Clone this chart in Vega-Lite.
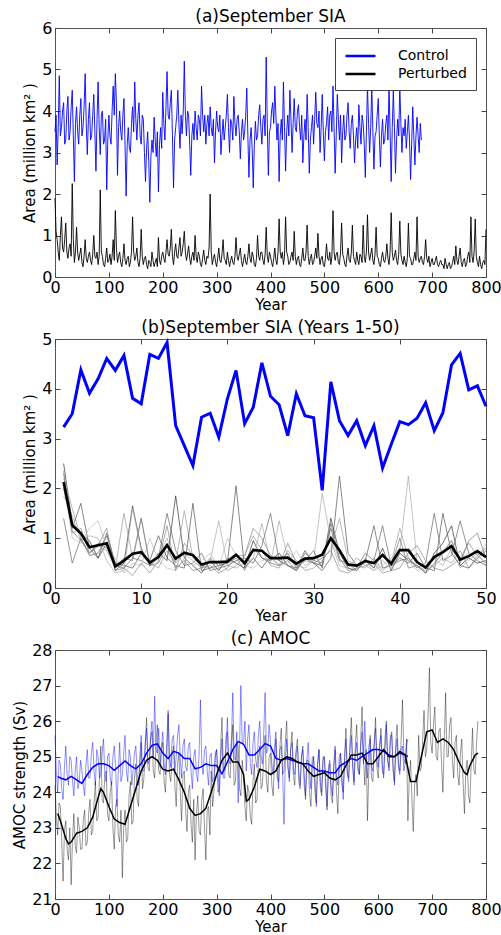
{
"$schema":"https://vega.github.io/schema/vega-lite/v6.json",
"padding":{"left":12,"top":7,"right":10,"bottom":1},
"spacing":5,
"config":{
"font":"DejaVu Sans",
"axis":{"labelFont":"DejaVu Sans","labelFontSize":16,"labelColor":"#000","titleFont":"DejaVu Sans","titleFontSize":15,"titleFontWeight":"normal","titleColor":"#000","domain":false,"grid":false,"ticks":true,"tickSize":-5,"tickColor":"#444","labelPadding":8,"labelFlush":false,"labelOverlap":false},
"axisX":{"titlePadding":2,"labelPadding":7},
"axisY":{"titlePadding":4},
"view":{"stroke":"#555","strokeWidth":1},
"title":{"font":"DejaVu Sans","fontSize":17,"fontWeight":"normal","offset":-6,"color":"#000"},
"legend":{"labelFont":"DejaVu Sans"}
},
"resolve":{"scale":{"color":"independent"},"legend":{"color":"independent"}},
"datasets":{
"ac":[{"year":0,"v":3.5},{"year":2,"v":3.9},{"year":4,"v":2.7},{"year":6,"v":3.6},{"year":8,"v":4.85},{"year":10,"v":3.4},{"year":12,"v":3.6},{"year":14,"v":4.0},{"year":16,"v":4.2},{"year":18,"v":3.2},{"year":20,"v":3.3},{"year":22,"v":4.0},{"year":24,"v":4.35},{"year":26,"v":3.3},{"year":28,"v":3.5},{"year":30,"v":4.1},{"year":32,"v":4.5},{"year":34,"v":3.4},{"year":36,"v":2.3},{"year":38,"v":3.7},
{"year":40,"v":4.1},{"year":42,"v":3.5},{"year":44,"v":3.2},{"year":46,"v":3.9},{"year":48,"v":4.3},{"year":50,"v":3.4},{"year":52,"v":3.6},{"year":54,"v":4.1},{"year":56,"v":4.9},{"year":58,"v":3.7},{"year":60,"v":2.95},{"year":62,"v":3.8},{"year":64,"v":4.2},{"year":66,"v":3.3},{"year":68,"v":3.4},{"year":70,"v":3.9},{"year":72,"v":4.4},{"year":74,"v":3.5},{"year":76,"v":2.55},{"year":78,"v":3.8},
{"year":80,"v":4.7},{"year":82,"v":3.6},{"year":84,"v":2.95},{"year":86,"v":3.9},{"year":88,"v":4.0},{"year":90,"v":3.2},{"year":92,"v":3.3},{"year":94,"v":3.8},{"year":96,"v":2.1},{"year":98,"v":3.3},{"year":100,"v":3.9},{"year":102,"v":3.4},{"year":104,"v":3.2},{"year":106,"v":4.0},{"year":108,"v":4.6},{"year":110,"v":3.9},{"year":112,"v":4.9},{"year":114,"v":4.2},{"year":116,"v":2.45},{"year":118,"v":3.6},
{"year":120,"v":4.0},{"year":122,"v":3.5},{"year":124,"v":3.3},{"year":126,"v":3.9},{"year":128,"v":4.3},{"year":130,"v":3.2},{"year":132,"v":1.95},{"year":134,"v":3.2},{"year":136,"v":3.6},{"year":138,"v":3.1},{"year":140,"v":3.0},{"year":142,"v":3.7},{"year":144,"v":4.1},{"year":146,"v":3.5},{"year":148,"v":4.7},{"year":150,"v":3.8},{"year":152,"v":3.3},{"year":154,"v":3.9},{"year":156,"v":4.2},{"year":158,"v":3.4},
{"year":160,"v":3.2},{"year":162,"v":3.9},{"year":164,"v":3.8},{"year":166,"v":3.0},{"year":168,"v":2.3},{"year":170,"v":3.1},{"year":172,"v":3.5},{"year":174,"v":2.8},{"year":176,"v":1.8},{"year":178,"v":2.9},{"year":180,"v":3.3},{"year":182,"v":3.0},{"year":184,"v":3.85},{"year":186,"v":3.3},{"year":188,"v":2.9},{"year":190,"v":3.5},{"year":192,"v":2.05},{"year":194,"v":3.2},{"year":196,"v":3.6},{"year":198,"v":3.1},
{"year":200,"v":4.45},{"year":202,"v":3.7},{"year":204,"v":3.3},{"year":206,"v":4.1},{"year":208,"v":4.95},{"year":210,"v":3.9},{"year":212,"v":3.8},{"year":214,"v":4.2},{"year":216,"v":4.5},{"year":218,"v":3.4},{"year":220,"v":2.15},{"year":222,"v":3.3},{"year":224,"v":3.6},{"year":226,"v":3.9},{"year":228,"v":4.5},{"year":230,"v":3.7},{"year":232,"v":3.1},{"year":234,"v":3.9},{"year":236,"v":3.45},{"year":238,"v":4.0},
{"year":240,"v":5.2},{"year":242,"v":3.9},{"year":244,"v":3.4},{"year":246,"v":4.0},{"year":248,"v":3.9},{"year":250,"v":3.2},{"year":252,"v":2.45},{"year":254,"v":3.4},{"year":256,"v":3.7},{"year":258,"v":3.3},{"year":260,"v":4.0},{"year":262,"v":3.6},{"year":264,"v":3.3},{"year":266,"v":3.9},{"year":268,"v":3.8},{"year":270,"v":3.4},{"year":272,"v":4.6},{"year":274,"v":3.9},{"year":276,"v":3.5},{"year":278,"v":3.9},
{"year":280,"v":3.2},{"year":282,"v":3.7},{"year":284,"v":3.9},{"year":286,"v":3.4},{"year":288,"v":4.1},{"year":290,"v":3.6},{"year":292,"v":3.4},{"year":294,"v":3.8},{"year":296,"v":2.75},{"year":298,"v":3.5},{"year":300,"v":4.0},{"year":302,"v":3.6},{"year":304,"v":3.5},{"year":306,"v":3.9},{"year":308,"v":2.95},{"year":310,"v":3.4},{"year":312,"v":3.8},{"year":314,"v":3.3},{"year":316,"v":3.6},{"year":318,"v":3.9},
{"year":320,"v":4.4},{"year":322,"v":3.6},{"year":324,"v":3.0},{"year":326,"v":3.8},{"year":328,"v":3.7},{"year":330,"v":3.3},{"year":332,"v":4.35},{"year":334,"v":3.7},{"year":336,"v":3.4},{"year":338,"v":3.8},{"year":340,"v":3.9},{"year":342,"v":3.5},{"year":344,"v":2.85},{"year":346,"v":3.5},{"year":348,"v":3.8},{"year":350,"v":3.3},{"year":352,"v":3.5},{"year":354,"v":3.9},{"year":356,"v":4.55},{"year":358,"v":3.4},
{"year":360,"v":2.4},{"year":362,"v":3.3},{"year":364,"v":3.6},{"year":366,"v":3.1},{"year":368,"v":2.15},{"year":370,"v":3.2},{"year":372,"v":3.75},{"year":374,"v":3.3},{"year":376,"v":3.4},{"year":378,"v":3.9},{"year":380,"v":4.15},{"year":382,"v":3.6},{"year":384,"v":3.2},{"year":386,"v":3.8},{"year":388,"v":3.9},{"year":390,"v":3.4},{"year":392,"v":5.3},{"year":394,"v":3.7},{"year":396,"v":2.45},{"year":398,"v":3.5},
{"year":400,"v":3.6},{"year":402,"v":4.0},{"year":404,"v":4.2},{"year":406,"v":3.7},{"year":408,"v":4.6},{"year":410,"v":3.9},{"year":412,"v":3.3},{"year":414,"v":3.7},{"year":416,"v":2.3},{"year":418,"v":3.4},{"year":420,"v":3.8},{"year":422,"v":3.3},{"year":424,"v":4.7},{"year":426,"v":3.6},{"year":428,"v":2.55},{"year":430,"v":3.5},{"year":432,"v":3.9},{"year":434,"v":3.4},{"year":436,"v":4.5},{"year":438,"v":3.8},
{"year":440,"v":3.0},{"year":442,"v":3.7},{"year":444,"v":4.3},{"year":446,"v":3.6},{"year":448,"v":3.5},{"year":450,"v":4.0},{"year":452,"v":4.15},{"year":454,"v":3.6},{"year":456,"v":3.3},{"year":458,"v":3.9},{"year":460,"v":2.75},{"year":462,"v":3.4},{"year":464,"v":3.8},{"year":466,"v":3.3},{"year":468,"v":4.4},{"year":470,"v":3.6},{"year":472,"v":2.5},{"year":474,"v":3.3},{"year":476,"v":3.6},{"year":478,"v":3.9},
{"year":480,"v":3.2},{"year":482,"v":3.8},{"year":484,"v":4.45},{"year":486,"v":3.7},{"year":488,"v":3.6},{"year":490,"v":4.0},{"year":492,"v":3.0},{"year":494,"v":3.6},{"year":496,"v":4.4},{"year":498,"v":3.5},{"year":500,"v":2.8},{"year":502,"v":3.5},{"year":504,"v":3.7},{"year":506,"v":4.1},{"year":508,"v":3.3},{"year":510,"v":3.9},{"year":512,"v":4.0},{"year":514,"v":3.5},{"year":516,"v":4.6},{"year":518,"v":3.6},
{"year":520,"v":2.5},{"year":522,"v":3.4},{"year":524,"v":4.4},{"year":526,"v":3.8},{"year":528,"v":3.3},{"year":530,"v":3.9},{"year":532,"v":2.75},{"year":534,"v":3.5},{"year":536,"v":3.9},{"year":538,"v":3.3},{"year":540,"v":3.4},{"year":542,"v":3.9},{"year":544,"v":4.2},{"year":546,"v":3.5},{"year":548,"v":3.1},{"year":550,"v":3.7},{"year":552,"v":3.9},{"year":554,"v":3.4},{"year":556,"v":2.75},{"year":558,"v":3.3},
{"year":560,"v":3.6},{"year":562,"v":3.1},{"year":564,"v":4.15},{"year":566,"v":3.6},{"year":568,"v":3.2},{"year":570,"v":3.9},{"year":572,"v":3.7},{"year":574,"v":3.2},{"year":576,"v":2.4},{"year":578,"v":3.5},{"year":580,"v":4.6},{"year":582,"v":3.7},{"year":584,"v":3.0},{"year":586,"v":3.6},{"year":588,"v":4.6},{"year":590,"v":3.5},{"year":592,"v":2.6},{"year":594,"v":3.4},{"year":596,"v":3.5},{"year":598,"v":3.9},
{"year":600,"v":4.3},{"year":602,"v":3.4},{"year":604,"v":2.65},{"year":606,"v":3.4},{"year":608,"v":3.8},{"year":610,"v":3.2},{"year":612,"v":3.3},{"year":614,"v":3.7},{"year":616,"v":3.9},{"year":618,"v":3.3},{"year":620,"v":4.6},{"year":622,"v":3.5},{"year":624,"v":2.3},{"year":626,"v":3.6},{"year":628,"v":4.5},{"year":630,"v":3.6},{"year":632,"v":2.5},{"year":634,"v":3.3},{"year":636,"v":3.8},{"year":638,"v":3.4},
{"year":640,"v":4.6},{"year":642,"v":3.7},{"year":644,"v":3.0},{"year":646,"v":3.6},{"year":648,"v":3.4},{"year":650,"v":3.8},{"year":652,"v":3.1},{"year":654,"v":3.5},{"year":656,"v":3.9},{"year":658,"v":3.3},{"year":660,"v":2.35},{"year":662,"v":3.2},{"year":664,"v":4.1},{"year":666,"v":3.4},{"year":668,"v":2.7},{"year":670,"v":3.4},{"year":672,"v":3.85},{"year":674,"v":3.4},{"year":676,"v":3.0},{"year":678,"v":3.7},
{"year":680,"v":3.3}],
"ap":[{"year":0,"v":1.9},{"year":2,"v":1.1},{"year":4,"v":0.9},{"year":6,"v":0.6},{"year":8,"v":0.4},{"year":10,"v":1.0},{"year":12,"v":1.45},{"year":14,"v":0.7},{"year":16,"v":0.6},{"year":18,"v":0.9},{"year":20,"v":1.3},{"year":22,"v":0.6},{"year":24,"v":0.45},{"year":26,"v":0.7},{"year":28,"v":0.8},{"year":30,"v":0.5},{"year":32,"v":2.25},{"year":34,"v":0.9},{"year":36,"v":0.35},{"year":38,"v":0.6},
{"year":40,"v":1.2},{"year":42,"v":0.6},{"year":44,"v":0.4},{"year":46,"v":0.55},{"year":48,"v":0.7},{"year":50,"v":0.35},{"year":52,"v":0.25},{"year":54,"v":0.5},{"year":56,"v":0.9},{"year":58,"v":0.45},{"year":60,"v":0.35},{"year":62,"v":0.5},{"year":64,"v":0.6},{"year":66,"v":0.4},{"year":68,"v":0.3},{"year":70,"v":0.55},{"year":72,"v":1.0},{"year":74,"v":0.5},{"year":76,"v":0.45},{"year":78,"v":0.6},
{"year":80,"v":0.3},{"year":82,"v":0.5},{"year":84,"v":2.1},{"year":86,"v":0.6},{"year":88,"v":0.5},{"year":90,"v":0.3},{"year":92,"v":0.25},{"year":94,"v":0.45},{"year":96,"v":0.7},{"year":98,"v":0.35},{"year":100,"v":0.4},{"year":102,"v":0.55},{"year":104,"v":0.3},{"year":106,"v":0.5},{"year":108,"v":0.9},{"year":110,"v":0.4},{"year":112,"v":1.6},{"year":114,"v":0.7},{"year":116,"v":0.35},{"year":118,"v":0.5},
{"year":120,"v":0.6},{"year":122,"v":0.35},{"year":124,"v":0.25},{"year":126,"v":0.45},{"year":128,"v":0.8},{"year":130,"v":0.4},{"year":132,"v":0.3},{"year":134,"v":0.45},{"year":136,"v":0.5},{"year":138,"v":0.25},{"year":140,"v":0.35},{"year":142,"v":0.6},{"year":144,"v":1.45},{"year":146,"v":0.6},{"year":148,"v":0.4},{"year":150,"v":0.5},{"year":152,"v":0.7},{"year":154,"v":0.35},{"year":156,"v":0.25},{"year":158,"v":0.45},
{"year":160,"v":1.15},{"year":162,"v":0.5},{"year":164,"v":0.3},{"year":166,"v":0.45},{"year":168,"v":0.5},{"year":170,"v":0.3},{"year":172,"v":0.2},{"year":174,"v":0.4},{"year":176,"v":0.35},{"year":178,"v":0.25},{"year":180,"v":0.6},{"year":182,"v":0.4},{"year":184,"v":0.25},{"year":186,"v":0.35},{"year":188,"v":0.45},{"year":190,"v":0.25},{"year":192,"v":0.95},{"year":194,"v":0.4},{"year":196,"v":0.3},{"year":198,"v":0.5},
{"year":200,"v":0.6},{"year":202,"v":0.45},{"year":204,"v":0.35},{"year":206,"v":0.6},{"year":208,"v":0.9},{"year":210,"v":0.55},{"year":212,"v":0.5},{"year":214,"v":0.7},{"year":216,"v":1.15},{"year":218,"v":0.5},{"year":220,"v":0.3},{"year":222,"v":0.6},{"year":224,"v":0.8},{"year":226,"v":0.5},{"year":228,"v":0.45},{"year":230,"v":0.7},{"year":232,"v":0.95},{"year":234,"v":0.5},{"year":236,"v":0.6},{"year":238,"v":0.8},
{"year":240,"v":1.1},{"year":242,"v":0.6},{"year":244,"v":0.4},{"year":246,"v":0.55},{"year":248,"v":0.75},{"year":250,"v":0.45},{"year":252,"v":0.3},{"year":254,"v":0.5},{"year":256,"v":0.6},{"year":258,"v":0.4},{"year":260,"v":1.0},{"year":262,"v":0.5},{"year":264,"v":0.35},{"year":266,"v":0.6},{"year":268,"v":0.5},{"year":270,"v":0.3},{"year":272,"v":0.25},{"year":274,"v":0.45},{"year":276,"v":0.65},{"year":278,"v":0.4},
{"year":280,"v":0.3},{"year":282,"v":0.5},{"year":284,"v":0.45},{"year":286,"v":0.7},{"year":288,"v":2.0},{"year":290,"v":0.6},{"year":292,"v":0.3},{"year":294,"v":0.45},{"year":296,"v":0.55},{"year":298,"v":0.35},{"year":300,"v":0.25},{"year":302,"v":0.45},{"year":304,"v":0.7},{"year":306,"v":0.4},{"year":308,"v":0.35},{"year":310,"v":0.55},{"year":312,"v":0.9},{"year":314,"v":0.45},{"year":316,"v":0.4},{"year":318,"v":0.3},
{"year":320,"v":0.6},{"year":322,"v":0.4},{"year":324,"v":0.25},{"year":326,"v":0.4},{"year":328,"v":0.5},{"year":330,"v":0.35},{"year":332,"v":0.3},{"year":334,"v":0.5},{"year":336,"v":0.95},{"year":338,"v":0.5},{"year":340,"v":0.4},{"year":342,"v":0.55},{"year":344,"v":0.7},{"year":346,"v":0.4},{"year":348,"v":0.25},{"year":350,"v":0.4},{"year":352,"v":0.55},{"year":354,"v":0.35},{"year":356,"v":0.3},{"year":358,"v":0.5},
{"year":360,"v":0.8},{"year":362,"v":0.45},{"year":364,"v":0.35},{"year":366,"v":0.6},{"year":368,"v":0.5},{"year":370,"v":0.3},{"year":372,"v":0.25},{"year":374,"v":0.45},{"year":376,"v":1.0},{"year":378,"v":0.5},{"year":380,"v":0.4},{"year":382,"v":0.6},{"year":384,"v":0.6},{"year":386,"v":0.4},{"year":388,"v":0.3},{"year":390,"v":0.55},{"year":392,"v":1.2},{"year":394,"v":0.5},{"year":396,"v":0.35},{"year":398,"v":0.6},
{"year":400,"v":0.5},{"year":402,"v":0.35},{"year":404,"v":0.25},{"year":406,"v":0.45},{"year":408,"v":0.7},{"year":410,"v":0.4},{"year":412,"v":0.3},{"year":414,"v":0.6},{"year":416,"v":1.4},{"year":418,"v":0.6},{"year":420,"v":0.45},{"year":422,"v":0.6},{"year":424,"v":0.3},{"year":426,"v":0.5},{"year":428,"v":1.45},{"year":430,"v":0.6},{"year":432,"v":0.5},{"year":434,"v":0.3},{"year":436,"v":0.35},{"year":438,"v":0.5},
{"year":440,"v":0.6},{"year":442,"v":0.4},{"year":444,"v":1.1},{"year":446,"v":0.5},{"year":448,"v":0.3},{"year":450,"v":0.45},{"year":452,"v":0.5},{"year":454,"v":0.3},{"year":456,"v":0.25},{"year":458,"v":0.45},{"year":460,"v":0.7},{"year":462,"v":0.4},{"year":464,"v":0.4},{"year":466,"v":0.6},{"year":468,"v":1.25},{"year":470,"v":0.5},{"year":472,"v":0.3},{"year":474,"v":0.45},{"year":476,"v":0.55},{"year":478,"v":0.3},
{"year":480,"v":0.35},{"year":482,"v":0.5},{"year":484,"v":0.7},{"year":486,"v":0.45},{"year":488,"v":1.05},{"year":490,"v":0.5},{"year":492,"v":0.3},{"year":494,"v":0.45},{"year":496,"v":0.5},{"year":498,"v":0.3},{"year":500,"v":0.25},{"year":502,"v":0.45},{"year":504,"v":0.8},{"year":506,"v":0.45},{"year":508,"v":0.4},{"year":510,"v":0.6},{"year":512,"v":0.3},{"year":514,"v":0.5},{"year":516,"v":1.6},{"year":518,"v":0.6},
{"year":520,"v":0.4},{"year":522,"v":0.55},{"year":524,"v":0.6},{"year":526,"v":0.35},{"year":528,"v":0.3},{"year":530,"v":0.6},{"year":532,"v":1.3},{"year":534,"v":0.55},{"year":536,"v":0.45},{"year":538,"v":0.3},{"year":540,"v":0.25},{"year":542,"v":0.5},{"year":544,"v":0.7},{"year":546,"v":0.4},{"year":548,"v":0.35},{"year":550,"v":0.6},{"year":552,"v":1.25},{"year":554,"v":0.5},{"year":556,"v":0.4},{"year":558,"v":0.3},
{"year":560,"v":0.6},{"year":562,"v":0.4},{"year":564,"v":0.3},{"year":566,"v":0.55},{"year":568,"v":0.5},{"year":570,"v":0.35},{"year":572,"v":1.25},{"year":574,"v":0.5},{"year":576,"v":0.35},{"year":578,"v":0.6},{"year":580,"v":1.5},{"year":582,"v":0.6},{"year":584,"v":0.4},{"year":586,"v":0.55},{"year":588,"v":0.7},{"year":590,"v":0.4},{"year":592,"v":0.3},{"year":594,"v":0.55},{"year":596,"v":1.2},{"year":598,"v":0.5},
{"year":600,"v":0.45},{"year":602,"v":0.3},{"year":604,"v":0.25},{"year":606,"v":0.45},{"year":608,"v":0.6},{"year":610,"v":0.4},{"year":612,"v":0.35},{"year":614,"v":0.5},{"year":616,"v":0.8},{"year":618,"v":0.45},{"year":620,"v":0.3},{"year":622,"v":0.6},{"year":624,"v":1.55},{"year":626,"v":0.6},{"year":628,"v":0.4},{"year":630,"v":0.5},{"year":632,"v":0.65},{"year":634,"v":0.4},{"year":636,"v":0.3},{"year":638,"v":0.55},
{"year":640,"v":1.35},{"year":642,"v":0.55},{"year":644,"v":0.4},{"year":646,"v":0.3},{"year":648,"v":0.5},{"year":650,"v":0.35},{"year":652,"v":0.25},{"year":654,"v":0.45},{"year":656,"v":1.3},{"year":658,"v":0.5},{"year":660,"v":0.45},{"year":662,"v":0.3},{"year":664,"v":0.3},{"year":666,"v":0.45},{"year":668,"v":0.6},{"year":670,"v":0.4},{"year":672,"v":1.45},{"year":674,"v":0.5},{"year":676,"v":0.35},{"year":678,"v":0.45},
{"year":680,"v":0.5},{"year":682,"v":0.35},{"year":684,"v":0.3},{"year":686,"v":0.5},{"year":688,"v":0.9},{"year":690,"v":0.45},{"year":692,"v":0.35},{"year":694,"v":0.5},{"year":696,"v":0.25},{"year":698,"v":0.35},{"year":700,"v":0.45},{"year":702,"v":0.3},{"year":704,"v":0.3},{"year":706,"v":0.4},{"year":708,"v":0.5},{"year":710,"v":0.3},{"year":712,"v":0.25},{"year":714,"v":0.35},{"year":716,"v":0.4},{"year":718,"v":0.3},
{"year":720,"v":0.3},{"year":722,"v":0.2},{"year":724,"v":0.45},{"year":726,"v":0.3},{"year":728,"v":0.2},{"year":730,"v":0.3},{"year":732,"v":0.35},{"year":734,"v":0.2},{"year":736,"v":0.25},{"year":738,"v":0.35},{"year":740,"v":0.5},{"year":742,"v":0.3},{"year":744,"v":0.75},{"year":746,"v":0.4},{"year":748,"v":0.3},{"year":750,"v":0.5},{"year":752,"v":0.7},{"year":754,"v":0.35},{"year":756,"v":0.25},{"year":758,"v":0.4},
{"year":760,"v":0.45},{"year":762,"v":0.25},{"year":764,"v":0.3},{"year":766,"v":0.5},{"year":768,"v":0.6},{"year":770,"v":0.35},{"year":772,"v":1.45},{"year":774,"v":0.5},{"year":776,"v":0.35},{"year":778,"v":0.6},{"year":780,"v":1.4},{"year":782,"v":0.5},{"year":784,"v":0.35},{"year":786,"v":0.25},{"year":788,"v":0.5},{"year":790,"v":0.3},{"year":792,"v":0.2},{"year":794,"v":0.35},{"year":796,"v":0.4},{"year":798,"v":0.3},
{"year":800,"v":1.15}],
"bc":[{"year":1,"v":3.23},{"year":2,"v":3.5},{"year":3,"v":4.38},{"year":4,"v":3.91},{"year":5,"v":4.2},{"year":6,"v":4.61},{"year":7,"v":4.37},{"year":8,"v":4.67},{"year":9,"v":3.81},{"year":10,"v":3.7},
{"year":11,"v":4.69},{"year":12,"v":4.61},{"year":13,"v":4.93},{"year":14,"v":3.26},{"year":15,"v":2.86},{"year":16,"v":2.46},{"year":17,"v":3.43},{"year":18,"v":3.51},{"year":19,"v":3.03},{"year":20,"v":3.8},
{"year":21,"v":4.37},{"year":22,"v":3.3},{"year":23,"v":3.63},{"year":24,"v":4.52},{"year":25,"v":3.85},{"year":26,"v":3.68},{"year":27,"v":3.06},{"year":28,"v":3.9},{"year":29,"v":3.46},{"year":30,"v":3.42},
{"year":31,"v":1.96},{"year":32,"v":4.14},{"year":33,"v":3.36},{"year":34,"v":3.06},{"year":35,"v":3.36},{"year":36,"v":2.86},{"year":37,"v":3.26},{"year":38,"v":2.41},{"year":39,"v":2.88},{"year":40,"v":3.34},
{"year":41,"v":3.28},{"year":42,"v":3.41},{"year":43,"v":3.72},{"year":44,"v":3.16},{"year":45,"v":3.52},{"year":46,"v":4.48},{"year":47,"v":4.71},{"year":48,"v":3.98},{"year":49,"v":4.06},{"year":50,"v":3.65}],
"bp":[{"year":1,"v":2.13},{"year":2,"v":1.26},{"year":3,"v":1.1},{"year":4,"v":0.82},{"year":5,"v":0.86},{"year":6,"v":0.9},{"year":7,"v":0.43},{"year":8,"v":0.55},{"year":9,"v":0.69},{"year":10,"v":0.72},
{"year":11,"v":0.51},{"year":12,"v":0.62},{"year":13,"v":0.86},{"year":14,"v":0.59},{"year":15,"v":0.71},{"year":16,"v":0.66},{"year":17,"v":0.47},{"year":18,"v":0.52},{"year":19,"v":0.52},{"year":20,"v":0.53},
{"year":21,"v":0.67},{"year":22,"v":0.5},{"year":23,"v":0.76},{"year":24,"v":0.75},{"year":25,"v":0.6},{"year":26,"v":0.6},{"year":27,"v":0.61},{"year":28,"v":0.49},{"year":29,"v":0.59},{"year":30,"v":0.6},
{"year":31,"v":0.67},{"year":32,"v":1.0},{"year":33,"v":0.76},{"year":34,"v":0.47},{"year":35,"v":0.45},{"year":36,"v":0.54},{"year":37,"v":0.5},{"year":38,"v":0.66},{"year":39,"v":0.49},{"year":40,"v":0.76},
{"year":41,"v":0.76},{"year":42,"v":0.52},{"year":43,"v":0.41},{"year":44,"v":0.62},{"year":45,"v":0.72},{"year":46,"v":0.84},{"year":47,"v":0.57},{"year":48,"v":0.64},{"year":49,"v":0.74},{"year":50,"v":0.62}],
"br":[
{"run":"A","year":1,"v":2.5},{"run":"A","year":2,"v":1.3},{"run":"A","year":3,"v":1.1},{"run":"A","year":4,"v":0.95},{"run":"A","year":5,"v":0.6},{"run":"A","year":6,"v":0.9},{"run":"A","year":7,"v":0.35},{"run":"A","year":8,"v":0.5},{"run":"A","year":9,"v":1.65},{"run":"A","year":10,"v":0.8},
{"run":"A","year":11,"v":0.45},{"run":"A","year":12,"v":0.7},{"run":"A","year":13,"v":0.55},{"run":"A","year":14,"v":1.85},{"run":"A","year":15,"v":0.6},{"run":"A","year":16,"v":0.45},{"run":"A","year":17,"v":0.3},{"run":"A","year":18,"v":0.55},{"run":"A","year":19,"v":0.35},{"run":"A","year":20,"v":0.6},
{"run":"A","year":21,"v":0.5},{"run":"A","year":22,"v":0.4},{"run":"A","year":23,"v":0.95},{"run":"A","year":24,"v":0.6},{"run":"A","year":25,"v":0.55},{"run":"A","year":26,"v":0.7},{"run":"A","year":27,"v":0.45},{"run":"A","year":28,"v":0.35},{"run":"A","year":29,"v":0.6},{"run":"A","year":30,"v":0.5},
{"run":"A","year":31,"v":0.45},{"run":"A","year":32,"v":1.4},{"run":"A","year":33,"v":0.7},{"run":"A","year":34,"v":0.4},{"run":"A","year":35,"v":0.35},{"run":"A","year":36,"v":0.55},{"run":"A","year":37,"v":0.4},{"run":"A","year":38,"v":0.8},{"run":"A","year":39,"v":0.35},{"run":"A","year":40,"v":0.7},
{"run":"A","year":41,"v":0.55},{"run":"A","year":42,"v":0.45},{"run":"A","year":43,"v":0.3},{"run":"A","year":44,"v":0.7},{"run":"A","year":45,"v":0.9},{"run":"A","year":46,"v":1.25},{"run":"A","year":47,"v":0.45},{"run":"A","year":48,"v":0.6},{"run":"A","year":49,"v":0.5},{"run":"A","year":50,"v":0.55},
{"run":"B","year":1,"v":2.2},{"run":"B","year":2,"v":1.6},{"run":"B","year":3,"v":1.0},{"run":"B","year":4,"v":0.7},{"run":"B","year":5,"v":0.85},{"run":"B","year":6,"v":0.75},{"run":"B","year":7,"v":0.4},{"run":"B","year":8,"v":1.5},{"run":"B","year":9,"v":0.6},{"run":"B","year":10,"v":1.4},
{"run":"B","year":11,"v":0.5},{"run":"B","year":12,"v":0.4},{"run":"B","year":13,"v":0.75},{"run":"B","year":14,"v":0.5},{"run":"B","year":15,"v":1.55},{"run":"B","year":16,"v":0.6},{"run":"B","year":17,"v":0.45},{"run":"B","year":18,"v":0.4},{"run":"B","year":19,"v":0.55},{"run":"B","year":20,"v":0.35},
{"run":"B","year":21,"v":0.45},{"run":"B","year":22,"v":0.65},{"run":"B","year":23,"v":1.05},{"run":"B","year":24,"v":0.75},{"run":"B","year":25,"v":0.45},{"run":"B","year":26,"v":0.4},{"run":"B","year":27,"v":0.75},{"run":"B","year":28,"v":0.55},{"run":"B","year":29,"v":0.35},{"run":"B","year":30,"v":0.4},
{"run":"B","year":31,"v":0.55},{"run":"B","year":32,"v":0.8},{"run":"B","year":33,"v":1.4},{"run":"B","year":34,"v":0.55},{"run":"B","year":35,"v":0.45},{"run":"B","year":36,"v":0.4},{"run":"B","year":37,"v":0.6},{"run":"B","year":38,"v":0.35},{"run":"B","year":39,"v":0.5},{"run":"B","year":40,"v":1.2},
{"run":"B","year":41,"v":0.6},{"run":"B","year":42,"v":0.45},{"run":"B","year":43,"v":0.35},{"run":"B","year":44,"v":0.45},{"run":"B","year":45,"v":0.6},{"run":"B","year":46,"v":0.5},{"run":"B","year":47,"v":0.75},{"run":"B","year":48,"v":0.4},{"run":"B","year":49,"v":0.65},{"run":"B","year":50,"v":0.5},
{"run":"C","year":1,"v":2.0},{"run":"C","year":2,"v":1.2},{"run":"C","year":3,"v":1.7},{"run":"C","year":4,"v":0.8},{"run":"C","year":5,"v":0.6},{"run":"C","year":6,"v":1.1},{"run":"C","year":7,"v":0.5},{"run":"C","year":8,"v":0.45},{"run":"C","year":9,"v":0.4},{"run":"C","year":10,"v":0.7},
{"run":"C","year":11,"v":0.55},{"run":"C","year":12,"v":1.05},{"run":"C","year":13,"v":0.6},{"run":"C","year":14,"v":0.45},{"run":"C","year":15,"v":0.4},{"run":"C","year":16,"v":1.7},{"run":"C","year":17,"v":0.35},{"run":"C","year":18,"v":0.4},{"run":"C","year":19,"v":0.45},{"run":"C","year":20,"v":0.5},
{"run":"C","year":21,"v":2.05},{"run":"C","year":22,"v":0.4},{"run":"C","year":23,"v":0.6},{"run":"C","year":24,"v":0.4},{"run":"C","year":25,"v":0.65},{"run":"C","year":26,"v":0.55},{"run":"C","year":27,"v":0.45},{"run":"C","year":28,"v":0.4},{"run":"C","year":29,"v":0.75},{"run":"C","year":30,"v":0.5},
{"run":"C","year":31,"v":0.35},{"run":"C","year":32,"v":0.6},{"run":"C","year":33,"v":2.25},{"run":"C","year":34,"v":0.7},{"run":"C","year":35,"v":0.45},{"run":"C","year":36,"v":0.55},{"run":"C","year":37,"v":1.25},{"run":"C","year":38,"v":0.4},{"run":"C","year":39,"v":0.45},{"run":"C","year":40,"v":0.6},
{"run":"C","year":41,"v":0.5},{"run":"C","year":42,"v":0.7},{"run":"C","year":43,"v":0.4},{"run":"C","year":44,"v":0.35},{"run":"C","year":45,"v":1.5},{"run":"C","year":46,"v":0.7},{"run":"C","year":47,"v":0.45},{"run":"C","year":48,"v":0.4},{"run":"C","year":49,"v":0.6},{"run":"C","year":50,"v":0.75},
{"run":"D","year":1,"v":1.85},{"run":"D","year":2,"v":1.45},{"run":"D","year":3,"v":0.95},{"run":"D","year":4,"v":1.05},{"run":"D","year":5,"v":1.0},{"run":"D","year":6,"v":0.55},{"run":"D","year":7,"v":0.3},{"run":"D","year":8,"v":0.35},{"run":"D","year":9,"v":1.6},{"run":"D","year":10,"v":0.75},
{"run":"D","year":11,"v":0.5},{"run":"D","year":12,"v":0.65},{"run":"D","year":13,"v":1.0},{"run":"D","year":14,"v":0.5},{"run":"D","year":15,"v":0.7},{"run":"D","year":16,"v":0.55},{"run":"D","year":17,"v":0.4},{"run":"D","year":18,"v":0.55},{"run":"D","year":19,"v":1.35},{"run":"D","year":20,"v":0.45},
{"run":"D","year":21,"v":0.4},{"run":"D","year":22,"v":0.5},{"run":"D","year":23,"v":0.6},{"run":"D","year":24,"v":1.3},{"run":"D","year":25,"v":0.5},{"run":"D","year":26,"v":1.35},{"run":"D","year":27,"v":0.6},{"run":"D","year":28,"v":0.45},{"run":"D","year":29,"v":0.4},{"run":"D","year":30,"v":0.55},
{"run":"D","year":31,"v":1.9},{"run":"D","year":32,"v":0.95},{"run":"D","year":33,"v":0.45},{"run":"D","year":34,"v":0.4},{"run":"D","year":35,"v":0.6},{"run":"D","year":36,"v":0.45},{"run":"D","year":37,"v":0.35},{"run":"D","year":38,"v":0.55},{"run":"D","year":39,"v":0.4},{"run":"D","year":40,"v":0.75},
{"run":"D","year":41,"v":2.25},{"run":"D","year":42,"v":0.55},{"run":"D","year":43,"v":0.4},{"run":"D","year":44,"v":0.6},{"run":"D","year":45,"v":0.45},{"run":"D","year":46,"v":0.8},{"run":"D","year":47,"v":0.4},{"run":"D","year":48,"v":0.55},{"run":"D","year":49,"v":0.7},{"run":"D","year":50,"v":0.45},
{"run":"E","year":1,"v":1.4},{"run":"E","year":2,"v":0.5},{"run":"E","year":3,"v":1.0},{"run":"E","year":4,"v":0.65},{"run":"E","year":5,"v":0.7},{"run":"E","year":6,"v":1.05},{"run":"E","year":7,"v":0.45},{"run":"E","year":8,"v":0.4},{"run":"E","year":9,"v":0.6},{"run":"E","year":10,"v":0.55},
{"run":"E","year":11,"v":0.45},{"run":"E","year":12,"v":0.6},{"run":"E","year":13,"v":1.5},{"run":"E","year":14,"v":0.75},{"run":"E","year":15,"v":0.45},{"run":"E","year":16,"v":0.5},{"run":"E","year":17,"v":0.7},{"run":"E","year":18,"v":0.35},{"run":"E","year":19,"v":0.4},{"run":"E","year":20,"v":0.45},
{"run":"E","year":21,"v":0.55},{"run":"E","year":22,"v":0.6},{"run":"E","year":23,"v":0.5},{"run":"E","year":24,"v":0.85},{"run":"E","year":25,"v":1.5},{"run":"E","year":26,"v":0.55},{"run":"E","year":27,"v":0.7},{"run":"E","year":28,"v":0.4},{"run":"E","year":29,"v":0.55},{"run":"E","year":30,"v":0.75},
{"run":"E","year":31,"v":0.4},{"run":"E","year":32,"v":1.3},{"run":"E","year":33,"v":0.6},{"run":"E","year":34,"v":0.35},{"run":"E","year":35,"v":0.4},{"run":"E","year":36,"v":0.7},{"run":"E","year":37,"v":0.55},{"run":"E","year":38,"v":1.25},{"run":"E","year":39,"v":0.45},{"run":"E","year":40,"v":0.55},
{"run":"E","year":41,"v":0.6},{"run":"E","year":42,"v":0.4},{"run":"E","year":43,"v":0.5},{"run":"E","year":44,"v":1.5},{"run":"E","year":45,"v":0.55},{"run":"E","year":46,"v":0.65},{"run":"E","year":47,"v":1.35},{"run":"E","year":48,"v":0.7},{"run":"E","year":49,"v":0.55},{"run":"E","year":50,"v":0.45},
{"run":"F","year":1,"v":2.1},{"run":"F","year":2,"v":1.0},{"run":"F","year":3,"v":0.9},{"run":"F","year":4,"v":1.2},{"run":"F","year":5,"v":1.35},{"run":"F","year":6,"v":0.8},{"run":"F","year":7,"v":0.6},{"run":"F","year":8,"v":0.3},{"run":"F","year":9,"v":0.5},{"run":"F","year":10,"v":0.45},
{"run":"F","year":11,"v":1.0},{"run":"F","year":12,"v":0.55},{"run":"F","year":13,"v":0.4},{"run":"F","year":14,"v":0.35},{"run":"F","year":15,"v":0.6},{"run":"F","year":16,"v":0.45},{"run":"F","year":17,"v":0.55},{"run":"F","year":18,"v":0.7},{"run":"F","year":19,"v":0.4},{"run":"F","year":20,"v":1.0},
{"run":"F","year":21,"v":0.65},{"run":"F","year":22,"v":0.45},{"run":"F","year":23,"v":0.4},{"run":"F","year":24,"v":0.55},{"run":"F","year":25,"v":0.6},{"run":"F","year":26,"v":0.45},{"run":"F","year":27,"v":0.5},{"run":"F","year":28,"v":0.75},{"run":"F","year":29,"v":0.45},{"run":"F","year":30,"v":0.55},
{"run":"F","year":31,"v":0.6},{"run":"F","year":32,"v":1.0},{"run":"F","year":33,"v":0.55},{"run":"F","year":34,"v":0.45},{"run":"F","year":35,"v":0.6},{"run":"F","year":36,"v":0.5},{"run":"F","year":37,"v":0.35},{"run":"F","year":38,"v":0.45},{"run":"F","year":39,"v":0.6},{"run":"F","year":40,"v":0.8},
{"run":"F","year":41,"v":0.55},{"run":"F","year":42,"v":0.35},{"run":"F","year":43,"v":0.4},{"run":"F","year":44,"v":0.45},{"run":"F","year":45,"v":0.75},{"run":"F","year":46,"v":0.95},{"run":"F","year":47,"v":0.6},{"run":"F","year":48,"v":0.7},{"run":"F","year":49,"v":0.55},{"run":"F","year":50,"v":0.9},
{"run":"G","year":1,"v":2.3},{"run":"G","year":2,"v":1.15},{"run":"G","year":3,"v":0.95},{"run":"G","year":4,"v":0.7},{"run":"G","year":5,"v":0.9},{"run":"G","year":6,"v":0.8},{"run":"G","year":7,"v":0.45},{"run":"G","year":8,"v":0.6},{"run":"G","year":9,"v":0.55},{"run":"G","year":10,"v":1.4},
{"run":"G","year":11,"v":0.45},{"run":"G","year":12,"v":0.5},{"run":"G","year":13,"v":0.85},{"run":"G","year":14,"v":0.4},{"run":"G","year":15,"v":0.55},{"run":"G","year":16,"v":0.35},{"run":"G","year":17,"v":0.4},{"run":"G","year":18,"v":0.6},{"run":"G","year":19,"v":0.45},{"run":"G","year":20,"v":0.5},
{"run":"G","year":21,"v":0.6},{"run":"G","year":22,"v":0.35},{"run":"G","year":23,"v":0.8},{"run":"G","year":24,"v":0.6},{"run":"G","year":25,"v":0.5},{"run":"G","year":26,"v":0.45},{"run":"G","year":27,"v":0.55},{"run":"G","year":28,"v":0.35},{"run":"G","year":29,"v":0.7},{"run":"G","year":30,"v":0.55},
{"run":"G","year":31,"v":0.5},{"run":"G","year":32,"v":1.2},{"run":"G","year":33,"v":0.55},{"run":"G","year":34,"v":0.5},{"run":"G","year":35,"v":0.35},{"run":"G","year":36,"v":0.6},{"run":"G","year":37,"v":0.4},{"run":"G","year":38,"v":0.7},{"run":"G","year":39,"v":0.45},{"run":"G","year":40,"v":1.0},
{"run":"G","year":41,"v":0.4},{"run":"G","year":42,"v":0.45},{"run":"G","year":43,"v":0.3},{"run":"G","year":44,"v":0.5},{"run":"G","year":45,"v":0.7},{"run":"G","year":46,"v":0.95},{"run":"G","year":47,"v":0.5},{"run":"G","year":48,"v":0.95},{"run":"G","year":49,"v":1.1},{"run":"G","year":50,"v":0.6},
{"run":"H","year":1,"v":2.35},{"run":"H","year":2,"v":1.1},{"run":"H","year":3,"v":1.2},{"run":"H","year":4,"v":0.7},{"run":"H","year":5,"v":0.85},{"run":"H","year":6,"v":1.2},{"run":"H","year":7,"v":0.35},{"run":"H","year":8,"v":0.4},{"run":"H","year":9,"v":0.25},{"run":"H","year":10,"v":0.5},
{"run":"H","year":11,"v":0.3},{"run":"H","year":12,"v":0.55},{"run":"H","year":13,"v":1.25},{"run":"H","year":14,"v":0.35},{"run":"H","year":15,"v":0.9},{"run":"H","year":16,"v":0.65},{"run":"H","year":17,"v":0.4},{"run":"H","year":18,"v":0.45},{"run":"H","year":19,"v":0.3},{"run":"H","year":20,"v":0.4},
{"run":"H","year":21,"v":0.65},{"run":"H","year":22,"v":0.65},{"run":"H","year":23,"v":1.2},{"run":"H","year":24,"v":1.0},{"run":"H","year":25,"v":0.65},{"run":"H","year":26,"v":0.45},{"run":"H","year":27,"v":0.9},{"run":"H","year":28,"v":0.5},{"run":"H","year":29,"v":0.55},{"run":"H","year":30,"v":0.5},
{"run":"H","year":31,"v":0.6},{"run":"H","year":32,"v":0.75},{"run":"H","year":33,"v":0.35},{"run":"H","year":34,"v":0.3},{"run":"H","year":35,"v":0.4},{"run":"H","year":36,"v":0.45},{"run":"H","year":37,"v":0.5},{"run":"H","year":38,"v":0.3},{"run":"H","year":39,"v":0.35},{"run":"H","year":40,"v":0.4},
{"run":"H","year":41,"v":0.7},{"run":"H","year":42,"v":0.85},{"run":"H","year":43,"v":0.55},{"run":"H","year":44,"v":0.4},{"run":"H","year":45,"v":0.35},{"run":"H","year":46,"v":0.45},{"run":"H","year":47,"v":0.6},{"run":"H","year":48,"v":0.9},{"run":"H","year":49,"v":0.65},{"run":"H","year":50,"v":0.8}],
"cc":[{"year":0,"v":25.6},{"year":2.5,"v":24.6},{"year":5,"v":24.0},{"year":7.5,"v":24.9},{"year":10,"v":24.8},{"year":12.5,"v":24.1},{"year":15,"v":23.8},{"year":17.5,"v":24.7},{"year":20,"v":25.3},{"year":22.5,"v":24.5},{"year":25,"v":24.2},{"year":27.5,"v":25.0},{"year":30,"v":24.9},{"year":32.5,"v":24.3},{"year":35,"v":23.9},{"year":37.5,"v":24.6},{"year":40,"v":25.0},{"year":42.5,"v":24.1},{"year":45,"v":24.3},{"year":47.5,"v":24.9},
{"year":50,"v":24.6},{"year":52.5,"v":24.2},{"year":55,"v":23.9},{"year":57.5,"v":24.8},{"year":60,"v":25.2},{"year":62.5,"v":24.4},{"year":65,"v":24.4},{"year":67.5,"v":25.1},{"year":70,"v":25.4},{"year":72.5,"v":24.6},{"year":75,"v":24.2},{"year":77.5,"v":25.2},{"year":80,"v":25.0},{"year":82.5,"v":24.4},{"year":85,"v":24.5},{"year":87.5,"v":25.1},{"year":90,"v":25.5},{"year":92.5,"v":24.5},{"year":95,"v":24.3},{"year":97.5,"v":25.0},
{"year":100,"v":25.1},{"year":102.5,"v":24.4},{"year":105,"v":24.2},{"year":107.5,"v":25.0},{"year":110,"v":25.3},{"year":112.5,"v":24.7},{"year":115,"v":23.6},{"year":117.5,"v":24.6},{"year":120,"v":25.4},{"year":122.5,"v":24.3},{"year":125,"v":24.5},{"year":127.5,"v":25.1},{"year":130,"v":25.6},{"year":132.5,"v":24.6},{"year":135,"v":24.3},{"year":137.5,"v":25.2},{"year":140,"v":25.0},{"year":142.5,"v":24.2},{"year":145,"v":24.6},{"year":147.5,"v":25.1},
{"year":150,"v":25.3},{"year":152.5,"v":24.5},{"year":155,"v":24.2},{"year":157.5,"v":25.0},{"year":160,"v":25.6},{"year":162.5,"v":24.6},{"year":165,"v":24.6},{"year":167.5,"v":25.4},{"year":170,"v":25.8},{"year":172.5,"v":24.8},{"year":175,"v":24.9},{"year":177.5,"v":25.6},{"year":180,"v":26.0},{"year":182.5,"v":25.0},{"year":185,"v":26.7},{"year":187.5,"v":25.2},{"year":190,"v":25.1},{"year":192.5,"v":25.8},{"year":195,"v":24.7},{"year":197.5,"v":25.3},
{"year":200,"v":25.7},{"year":202.5,"v":24.8},{"year":205,"v":24.5},{"year":207.5,"v":25.4},{"year":210,"v":26.3},{"year":212.5,"v":25.0},{"year":215,"v":24.7},{"year":217.5,"v":25.5},{"year":220,"v":25.6},{"year":222.5,"v":24.6},{"year":225,"v":25.0},{"year":227.5,"v":25.6},{"year":230,"v":25.9},{"year":232.5,"v":24.9},{"year":235,"v":24.4},{"year":237.5,"v":25.3},{"year":240,"v":25.5},{"year":242.5,"v":24.7},{"year":245,"v":24.6},{"year":247.5,"v":25.3},
{"year":250,"v":25.4},{"year":252.5,"v":24.6},{"year":255,"v":24.1},{"year":257.5,"v":25.0},{"year":260,"v":25.2},{"year":262.5,"v":24.5},{"year":265,"v":24.3},{"year":267.5,"v":25.1},{"year":270,"v":26.6},{"year":272.5,"v":24.8},{"year":275,"v":24.5},{"year":277.5,"v":25.2},{"year":280,"v":25.3},{"year":282.5,"v":24.6},{"year":285,"v":24.2},{"year":287.5,"v":25.0},{"year":290,"v":25.1},{"year":292.5,"v":24.3},{"year":295,"v":24.4},{"year":297.5,"v":25.1},
{"year":300,"v":25.2},{"year":302.5,"v":24.6},{"year":305,"v":23.9},{"year":307.5,"v":24.9},{"year":310,"v":25.5},{"year":312.5,"v":24.4},{"year":315,"v":24.4},{"year":317.5,"v":25.2},{"year":320,"v":26.1},{"year":322.5,"v":24.9},{"year":325,"v":24.8},{"year":327.5,"v":25.5},{"year":330,"v":26.8},{"year":332.5,"v":25.0},{"year":335,"v":24.9},{"year":337.5,"v":25.7},{"year":340,"v":23.7},{"year":342.5,"v":25.2},{"year":345,"v":27.0},{"year":347.5,"v":25.4},
{"year":350,"v":25.4},{"year":352.5,"v":26.0},{"year":355,"v":24.6},{"year":357.5,"v":25.5},{"year":360,"v":25.9},{"year":362.5,"v":24.8},{"year":365,"v":24.5},{"year":367.5,"v":25.4},{"year":370,"v":25.7},{"year":372.5,"v":24.9},{"year":375,"v":24.7},{"year":377.5,"v":25.6},{"year":380,"v":26.0},{"year":382.5,"v":25.0},{"year":385,"v":24.8},{"year":387.5,"v":25.7},{"year":390,"v":26.8},{"year":392.5,"v":25.1},{"year":395,"v":25.2},{"year":397.5,"v":25.9},
{"year":400,"v":25.4},{"year":402.5,"v":24.8},{"year":405,"v":24.5},{"year":407.5,"v":25.3},{"year":410,"v":25.7},{"year":412.5,"v":24.7},{"year":415,"v":24.1},{"year":417.5,"v":25.2},{"year":420,"v":25.3},{"year":422.5,"v":24.6},{"year":425,"v":23.1},{"year":427.5,"v":24.8},{"year":430,"v":25.5},{"year":432.5,"v":24.7},{"year":435,"v":24.3},{"year":437.5,"v":25.2},{"year":440,"v":25.4},{"year":442.5,"v":24.6},{"year":445,"v":24.5},{"year":447.5,"v":25.1},
{"year":450,"v":25.3},{"year":452.5,"v":24.6},{"year":455,"v":24.2},{"year":457.5,"v":25.0},{"year":460,"v":25.2},{"year":462.5,"v":24.5},{"year":465,"v":23.9},{"year":467.5,"v":24.9},{"year":470,"v":25.4},{"year":472.5,"v":24.6},{"year":475,"v":24.1},{"year":477.5,"v":25.0},{"year":480,"v":25.0},{"year":482.5,"v":24.4},{"year":485,"v":23.6},{"year":487.5,"v":24.8},{"year":490,"v":25.2},{"year":492.5,"v":24.3},{"year":495,"v":24.0},{"year":497.5,"v":24.9},
{"year":500,"v":25.0},{"year":502.5,"v":24.4},{"year":505,"v":23.6},{"year":507.5,"v":24.7},{"year":510,"v":24.9},{"year":512.5,"v":24.2},{"year":515,"v":23.9},{"year":517.5,"v":24.8},{"year":520,"v":25.3},{"year":522.5,"v":24.4},{"year":525,"v":24.2},{"year":527.5,"v":25.0},{"year":530,"v":25.1},{"year":532.5,"v":24.5},{"year":535,"v":23.8},{"year":537.5,"v":24.9},{"year":540,"v":25.5},{"year":542.5,"v":24.6},{"year":545,"v":24.3},{"year":547.5,"v":25.2},
{"year":550,"v":25.6},{"year":552.5,"v":24.7},{"year":555,"v":24.2},{"year":557.5,"v":25.1},{"year":560,"v":25.4},{"year":562.5,"v":24.6},{"year":565,"v":24.5},{"year":567.5,"v":25.3},{"year":570,"v":25.7},{"year":572.5,"v":24.8},{"year":575,"v":26.0},{"year":577.5,"v":25.0},{"year":580,"v":24.4},{"year":582.5,"v":25.3},{"year":585,"v":25.5},{"year":587.5,"v":24.7},{"year":590,"v":24.6},{"year":592.5,"v":25.4},{"year":595,"v":25.8},{"year":597.5,"v":24.9},
{"year":600,"v":24.7},{"year":602.5,"v":25.3},{"year":605,"v":25.6},{"year":607.5,"v":24.8},{"year":610,"v":24.4},{"year":612.5,"v":25.2},{"year":615,"v":25.9},{"year":617.5,"v":24.9},{"year":620,"v":24.6},{"year":622.5,"v":25.4},{"year":625,"v":25.7},{"year":627.5,"v":24.8},{"year":630,"v":24.2},{"year":632.5,"v":25.1},{"year":635,"v":25.5},{"year":637.5,"v":24.7},{"year":640,"v":24.5},{"year":642.5,"v":25.2},{"year":645,"v":25.3},{"year":647.5,"v":24.6},
{"year":650,"v":24.8},{"year":652.5,"v":25.3},{"year":655,"v":25.5}],
"cp":[{"year":0,"v":24.2},{"year":2.5,"v":23.3},{"year":5,"v":22.8},{"year":7.5,"v":23.7},{"year":10,"v":23.6},{"year":12.5,"v":22.6},{"year":15,"v":21.5},{"year":17.5,"v":22.9},{"year":20,"v":23.2},{"year":22.5,"v":22.4},{"year":25,"v":22.1},{"year":27.5,"v":23.0},{"year":30,"v":21.4},{"year":32.5,"v":22.7},{"year":35,"v":23.4},{"year":37.5,"v":22.5},{"year":40,"v":22.3},{"year":42.5,"v":23.3},{"year":45,"v":23.0},{"year":47.5,"v":22.4},
{"year":50,"v":22.4},{"year":52.5,"v":23.2},{"year":55,"v":23.5},{"year":57.5,"v":22.5},{"year":60,"v":22.6},{"year":62.5,"v":23.4},{"year":65,"v":23.8},{"year":67.5,"v":22.8},{"year":70,"v":22.9},{"year":72.5,"v":23.7},{"year":75,"v":24.3},{"year":77.5,"v":23.2},{"year":80,"v":23.3},{"year":82.5,"v":24.4},{"year":85,"v":25.3},{"year":87.5,"v":23.8},{"year":90,"v":23.7},{"year":92.5,"v":24.5},{"year":95,"v":24.6},{"year":97.5,"v":23.4},
{"year":100,"v":23.2},{"year":102.5,"v":24.0},{"year":105,"v":24.3},{"year":107.5,"v":23.0},{"year":110,"v":22.4},{"year":112.5,"v":23.6},{"year":115,"v":23.8},{"year":117.5,"v":22.8},{"year":120,"v":22.6},{"year":122.5,"v":23.5},{"year":125,"v":21.6},{"year":127.5,"v":23.0},{"year":130,"v":23.5},{"year":132.5,"v":22.6},{"year":135,"v":22.7},{"year":137.5,"v":23.9},{"year":140,"v":24.3},{"year":142.5,"v":23.1},{"year":145,"v":23.2},{"year":147.5,"v":24.4},
{"year":150,"v":24.8},{"year":152.5,"v":23.8},{"year":155,"v":23.6},{"year":157.5,"v":24.7},{"year":160,"v":25.4},{"year":162.5,"v":24.1},{"year":165,"v":24.4},{"year":167.5,"v":25.3},{"year":170,"v":26.1},{"year":172.5,"v":24.7},{"year":175,"v":24.6},{"year":177.5,"v":25.5},{"year":180,"v":25.7},{"year":182.5,"v":24.6},{"year":185,"v":24.4},{"year":187.5,"v":25.4},{"year":190,"v":25.9},{"year":192.5,"v":24.6},{"year":195,"v":24.5},{"year":197.5,"v":25.2},
{"year":200,"v":25.4},{"year":202.5,"v":24.3},{"year":205,"v":24.0},{"year":207.5,"v":25.0},{"year":210,"v":26.2},{"year":212.5,"v":24.5},{"year":215,"v":24.3},{"year":217.5,"v":25.1},{"year":220,"v":25.3},{"year":222.5,"v":24.2},{"year":225,"v":23.6},{"year":227.5,"v":24.8},{"year":230,"v":25.1},{"year":232.5,"v":24.0},{"year":235,"v":23.2},{"year":237.5,"v":24.5},{"year":240,"v":24.6},{"year":242.5,"v":23.5},{"year":245,"v":22.9},{"year":247.5,"v":24.0},
{"year":250,"v":24.2},{"year":252.5,"v":23.1},{"year":255,"v":22.6},{"year":257.5,"v":23.8},{"year":260,"v":22.1},{"year":262.5,"v":23.4},{"year":265,"v":23.9},{"year":267.5,"v":22.9},{"year":270,"v":22.8},{"year":272.5,"v":23.8},{"year":275,"v":24.1},{"year":277.5,"v":23.0},{"year":280,"v":22.1},{"year":282.5,"v":23.5},{"year":285,"v":23.6},{"year":287.5,"v":22.8},{"year":290,"v":24.6},{"year":292.5,"v":23.6},{"year":295,"v":24.0},{"year":297.5,"v":25.0},
{"year":300,"v":25.2},{"year":302.5,"v":24.0},{"year":305,"v":24.1},{"year":307.5,"v":25.3},{"year":310,"v":26.1},{"year":312.5,"v":24.6},{"year":315,"v":24.6},{"year":317.5,"v":25.6},{"year":320,"v":25.7},{"year":322.5,"v":24.5},{"year":325,"v":24.4},{"year":327.5,"v":25.3},{"year":330,"v":25.9},{"year":332.5,"v":24.2},{"year":335,"v":24.3},{"year":337.5,"v":25.4},{"year":340,"v":25.3},{"year":342.5,"v":24.1},{"year":345,"v":23.9},{"year":347.5,"v":24.9},
{"year":350,"v":24.4},{"year":352.5,"v":23.6},{"year":355,"v":23.2},{"year":357.5,"v":24.2},{"year":360,"v":24.0},{"year":362.5,"v":23.3},{"year":365,"v":23.1},{"year":367.5,"v":24.3},{"year":370,"v":24.8},{"year":372.5,"v":23.7},{"year":375,"v":23.8},{"year":377.5,"v":24.9},{"year":380,"v":25.3},{"year":382.5,"v":24.1},{"year":385,"v":24.2},{"year":387.5,"v":25.1},{"year":390,"v":25.6},{"year":392.5,"v":24.3},{"year":395,"v":24.0},{"year":397.5,"v":25.0},
{"year":400,"v":25.1},{"year":402.5,"v":24.2},{"year":405,"v":23.9},{"year":407.5,"v":24.9},{"year":410,"v":25.5},{"year":412.5,"v":24.4},{"year":415,"v":24.3},{"year":417.5,"v":25.3},{"year":420,"v":25.8},{"year":422.5,"v":24.5},{"year":425,"v":24.6},{"year":427.5,"v":25.4},{"year":430,"v":26.0},{"year":432.5,"v":24.7},{"year":435,"v":24.4},{"year":437.5,"v":25.3},{"year":440,"v":25.7},{"year":442.5,"v":24.5},{"year":445,"v":24.2},{"year":447.5,"v":25.2},
{"year":450,"v":25.5},{"year":452.5,"v":24.3},{"year":455,"v":24.1},{"year":457.5,"v":25.0},{"year":460,"v":25.3},{"year":462.5,"v":24.2},{"year":465,"v":23.8},{"year":467.5,"v":24.9},{"year":470,"v":24.9},{"year":472.5,"v":24.0},{"year":475,"v":23.6},{"year":477.5,"v":24.7},{"year":480,"v":25.0},{"year":482.5,"v":24.0},{"year":485,"v":23.7},{"year":487.5,"v":24.8},{"year":490,"v":25.2},{"year":492.5,"v":24.1},{"year":495,"v":23.9},{"year":497.5,"v":25.0},
{"year":500,"v":25.0},{"year":502.5,"v":24.1},{"year":505,"v":23.5},{"year":507.5,"v":24.6},{"year":510,"v":24.8},{"year":512.5,"v":23.9},{"year":515,"v":23.7},{"year":517.5,"v":24.7},{"year":520,"v":25.2},{"year":522.5,"v":24.0},{"year":525,"v":23.4},{"year":527.5,"v":24.6},{"year":530,"v":25.1},{"year":532.5,"v":24.2},{"year":535,"v":24.0},{"year":537.5,"v":25.0},{"year":540,"v":25.8},{"year":542.5,"v":24.5},{"year":545,"v":24.4},{"year":547.5,"v":25.4},
{"year":550,"v":26.1},{"year":552.5,"v":24.8},{"year":555,"v":24.3},{"year":557.5,"v":25.3},{"year":560,"v":25.9},{"year":562.5,"v":24.7},{"year":565,"v":24.5},{"year":567.5,"v":25.5},{"year":570,"v":26.4},{"year":572.5,"v":25.0},{"year":575,"v":24.2},{"year":577.5,"v":25.2},{"year":580,"v":23.2},{"year":582.5,"v":24.6},{"year":585,"v":25.6},{"year":587.5,"v":24.4},{"year":590,"v":24.3},{"year":592.5,"v":25.3},{"year":595,"v":26.1},{"year":597.5,"v":24.7},
{"year":600,"v":24.4},{"year":602.5,"v":25.2},{"year":605,"v":25.8},{"year":607.5,"v":24.6},{"year":610,"v":24.5},{"year":612.5,"v":25.5},{"year":615,"v":26.0},{"year":617.5,"v":24.9},{"year":620,"v":24.7},{"year":622.5,"v":25.6},{"year":625,"v":25.6},{"year":627.5,"v":24.6},{"year":630,"v":24.3},{"year":632.5,"v":25.4},{"year":635,"v":25.9},{"year":637.5,"v":24.8},{"year":640,"v":24.6},{"year":642.5,"v":25.5},{"year":645,"v":26.6},{"year":647.5,"v":25.0},
{"year":650,"v":24.8},{"year":652.5,"v":25.5},{"year":655,"v":23.2},{"year":657.5,"v":24.4},{"year":660,"v":24.9},{"year":662.5,"v":23.8},{"year":665,"v":22.9},{"year":667.5,"v":24.2},{"year":670,"v":24.5},{"year":672.5,"v":23.9},{"year":675,"v":25.6},{"year":677.5,"v":24.6},{"year":680,"v":24.7},{"year":682.5,"v":25.5},{"year":685,"v":26.3},{"year":687.5,"v":25.0},{"year":690,"v":25.2},{"year":692.5,"v":26.2},{"year":695,"v":27.5},{"year":697.5,"v":25.4},
{"year":700,"v":25.1},{"year":702.5,"v":25.9},{"year":705,"v":26.4},{"year":707.5,"v":25.0},{"year":710,"v":24.9},{"year":712.5,"v":25.7},{"year":715,"v":25.8},{"year":717.5,"v":24.8},{"year":720,"v":24.0},{"year":722.5,"v":25.4},{"year":725,"v":26.8},{"year":727.5,"v":25.0},{"year":730,"v":25.0},{"year":732.5,"v":25.9},{"year":735,"v":26.1},{"year":737.5,"v":24.9},{"year":740,"v":24.4},{"year":742.5,"v":25.4},{"year":745,"v":25.6},{"year":747.5,"v":24.5},
{"year":750,"v":24.2},{"year":752.5,"v":25.1},{"year":755,"v":25.5},{"year":757.5,"v":24.3},{"year":760,"v":23.4},{"year":762.5,"v":24.6},{"year":765,"v":24.9},{"year":767.5,"v":23.9},{"year":770,"v":23.7},{"year":772.5,"v":24.8},{"year":775,"v":25.8},{"year":777.5,"v":24.6},{"year":780,"v":24.5},{"year":782.5,"v":25.4},{"year":785,"v":26.0}],
"ccs":[{"year":5,"v":24.45},{"year":10,"v":24.4},{"year":20,"v":24.35},{"year":30,"v":24.45},{"year":40,"v":24.35},{"year":50,"v":24.25},{"year":60,"v":24.5},{"year":70,"v":24.7},{"year":80,"v":24.8},{"year":90,"v":24.8},
{"year":100,"v":24.75},{"year":110,"v":24.62},{"year":120,"v":24.75},{"year":130,"v":24.88},{"year":140,"v":24.75},{"year":150,"v":24.66},{"year":160,"v":24.8},{"year":170,"v":25.1},{"year":180,"v":25.32},{"year":190,"v":25.36},
{"year":200,"v":25.1},{"year":210,"v":24.95},{"year":220,"v":25.15},{"year":230,"v":25.1},{"year":240,"v":24.95},{"year":250,"v":24.95},{"year":260,"v":24.66},{"year":270,"v":24.7},{"year":280,"v":24.8},{"year":290,"v":24.75},
{"year":300,"v":24.75},{"year":310,"v":24.52},{"year":320,"v":24.85},{"year":330,"v":25.2},{"year":340,"v":25.43},{"year":350,"v":25.35},{"year":360,"v":25.05},{"year":370,"v":25.05},{"year":380,"v":25.2},{"year":390,"v":25.37},
{"year":400,"v":25.3},{"year":410,"v":24.95},{"year":420,"v":24.9},{"year":430,"v":24.95},{"year":440,"v":24.9},{"year":450,"v":24.85},{"year":460,"v":24.8},{"year":470,"v":24.8},{"year":480,"v":24.7},{"year":490,"v":24.6},
{"year":500,"v":24.6},{"year":510,"v":24.55},{"year":520,"v":24.55},{"year":530,"v":24.75},{"year":540,"v":24.85},{"year":550,"v":24.95},{"year":560,"v":24.9},{"year":570,"v":25.0},{"year":580,"v":25.1},{"year":590,"v":25.2},
{"year":600,"v":25.2},{"year":610,"v":25.15},{"year":620,"v":25.05},{"year":630,"v":25.0},{"year":640,"v":25.1},{"year":650,"v":25.05},{"year":655,"v":25.0}],
"cps":[{"year":5,"v":23.4},{"year":10,"v":23.2},{"year":20,"v":22.7},{"year":25,"v":22.55},{"year":30,"v":22.6},{"year":40,"v":22.85},{"year":50,"v":22.9},{"year":60,"v":23.0},{"year":70,"v":23.3},{"year":80,"v":23.85},
{"year":85,"v":24.1},{"year":90,"v":24.0},{"year":100,"v":23.6},{"year":110,"v":23.25},{"year":120,"v":23.15},{"year":130,"v":23.1},{"year":140,"v":23.6},{"year":150,"v":24.1},{"year":160,"v":24.6},{"year":170,"v":24.9},
{"year":180,"v":25.0},{"year":190,"v":24.9},{"year":200,"v":24.65},{"year":210,"v":24.6},{"year":220,"v":24.65},{"year":230,"v":24.35},{"year":240,"v":24.0},{"year":250,"v":23.55},{"year":260,"v":23.35},{"year":270,"v":23.4},
{"year":280,"v":23.55},{"year":290,"v":24.0},{"year":300,"v":24.5},{"year":310,"v":24.9},{"year":320,"v":25.1},{"year":330,"v":24.85},{"year":340,"v":24.85},{"year":350,"v":24.5},{"year":355,"v":23.75},{"year":360,"v":23.8},
{"year":370,"v":24.15},{"year":380,"v":24.65},{"year":390,"v":24.6},{"year":400,"v":24.5},{"year":410,"v":24.6},{"year":420,"v":24.9},{"year":430,"v":25.0},{"year":440,"v":24.95},{"year":450,"v":24.85},{"year":460,"v":24.8},
{"year":470,"v":24.6},{"year":480,"v":24.45},{"year":490,"v":24.5},{"year":500,"v":24.55},{"year":510,"v":24.4},{"year":520,"v":24.35},{"year":530,"v":24.45},{"year":540,"v":24.75},{"year":550,"v":25.05},{"year":560,"v":25.05},
{"year":570,"v":25.1},{"year":580,"v":24.8},{"year":590,"v":24.8},{"year":600,"v":25.0},{"year":610,"v":25.2},{"year":620,"v":25.0},{"year":630,"v":25.0},{"year":640,"v":25.15},{"year":650,"v":25.05},{"year":660,"v":24.3},
{"year":670,"v":24.3},{"year":680,"v":25.0},{"year":690,"v":25.7},{"year":700,"v":25.75},{"year":710,"v":25.4},{"year":720,"v":25.5},{"year":730,"v":25.4},{"year":740,"v":25.2},{"year":750,"v":24.85},{"year":760,"v":24.55},
{"year":765,"v":24.5},{"year":770,"v":24.75},{"year":780,"v":25.05},{"year":785,"v":25.1}]
},
"vconcat":[
{"width":431,"height":249,"title":"(a)September SIA",
"resolve":{"axis":{"x":"independent","y":"independent"}},
"layer":[
{"data":{"name":"ac"},"mark":{"type":"line","strokeWidth":0.9},
"encoding":{
"x":{"field":"year","type":"quantitative","scale":{"domain":[0,800],"nice":false},"axis":{"values":[0,100,200,300,400,500,600,700,800],"title":"Year"}},
"y":{"field":"v","type":"quantitative","scale":{"domain":[0,6],"nice":false},"axis":{"values":[0,1,2,3,4,5,6],"title":"Area (million km² )"}},
"color":{"datum":"Control","type":"nominal","scale":{"domain":["Control","Perturbed"],"range":["#0000ff","#000000"]},
"legend":{"title":null,"orient":"top-right","offset":10,"fillColor":"white","strokeColor":"#444","padding":9,"symbolType":"M-1,0L3,0","symbolSize":225,"symbolStrokeWidth":2.5,"labelFontSize":14,"labelOffset":36,"rowPadding":2,"labelColor":"#000"}}}},
{"data":{"name":"ap"},"mark":{"type":"line","strokeWidth":0.9},
"encoding":{
"x":{"field":"year","type":"quantitative","axis":{"orient":"top","values":[0,100,200,300,400,500,600,700,800],"labels":false,"title":null,"labelPadding":0,"minExtent":0}},
"y":{"field":"v","type":"quantitative","axis":{"orient":"right","values":[0,1,2,3,4,5,6],"labels":false,"title":null,"labelPadding":0,"minExtent":0}},
"color":{"datum":"Perturbed","type":"nominal"}}}
]},
{"width":431,"height":249,"title":"(b)September SIA (Years 1-50)",
"resolve":{"axis":{"x":"independent","y":"independent"}},
"layer":[
{"data":{"name":"br"},"mark":{"type":"line","strokeWidth":0.7},
"encoding":{
"x":{"field":"year","type":"quantitative","scale":{"domain":[0,50],"nice":false},"axis":{"values":[0,10,20,30,40,50],"title":"Year"}},
"y":{"field":"v","type":"quantitative","scale":{"domain":[0,5],"nice":false},"axis":{"values":[0,1,2,3,4,5],"title":"Area (million km² )"}},
"color":{"field":"run","type":"nominal","scale":{"range":["#333333","#999999","#555555","#aaaaaa","#666666","#bbbbbb","#777777","#888888"]},"legend":null}}},
{"data":{"name":"bp"},"mark":{"type":"line","strokeWidth":2.6,"color":"#000000"},
"encoding":{"x":{"field":"year","type":"quantitative","axis":null},"y":{"field":"v","type":"quantitative","axis":null}}},
{"data":{"name":"bc"},"mark":{"type":"line","strokeWidth":3,"color":"#0000ff"},
"encoding":{
"x":{"field":"year","type":"quantitative","axis":{"orient":"top","values":[0,10,20,30,40,50],"labels":false,"title":null,"labelPadding":0,"minExtent":0}},
"y":{"field":"v","type":"quantitative","axis":{"orient":"right","values":[0,1,2,3,4,5],"labels":false,"title":null,"labelPadding":0,"minExtent":0}}}}
]},
{"width":431,"height":249,"title":"(c) AMOC",
"resolve":{"axis":{"x":"independent","y":"independent"}},
"layer":[
{"data":{"name":"cp"},"mark":{"type":"line","strokeWidth":0.8,"color":"#000000","opacity":0.5},
"encoding":{
"x":{"field":"year","type":"quantitative","scale":{"domain":[0,800],"nice":false},"axis":{"values":[0,100,200,300,400,500,600,700,800],"title":"Year"}},
"y":{"field":"v","type":"quantitative","scale":{"domain":[21,28],"nice":false,"zero":false},"axis":{"values":[21,22,23,24,25,26,27,28],"title":"AMOC strength (Sv)"}}}},
{"data":{"name":"cc"},"mark":{"type":"line","strokeWidth":0.8,"color":"#0000ff","opacity":0.55},
"encoding":{"x":{"field":"year","type":"quantitative","axis":null},"y":{"field":"v","type":"quantitative","axis":null}}},
{"data":{"name":"ccs"},"mark":{"type":"line","strokeWidth":1.5,"color":"#0000ff"},
"encoding":{"x":{"field":"year","type":"quantitative","axis":null},"y":{"field":"v","type":"quantitative","axis":null}}},
{"data":{"name":"cps"},"mark":{"type":"line","strokeWidth":1.5,"color":"#000000"},
"encoding":{
"x":{"field":"year","type":"quantitative","axis":{"orient":"top","values":[0,100,200,300,400,500,600,700,800],"labels":false,"title":null,"labelPadding":0,"minExtent":0}},
"y":{"field":"v","type":"quantitative","axis":{"orient":"right","values":[21,22,23,24,25,26,27,28],"labels":false,"title":null,"labelPadding":0,"minExtent":0}}}}
]}
]
}
